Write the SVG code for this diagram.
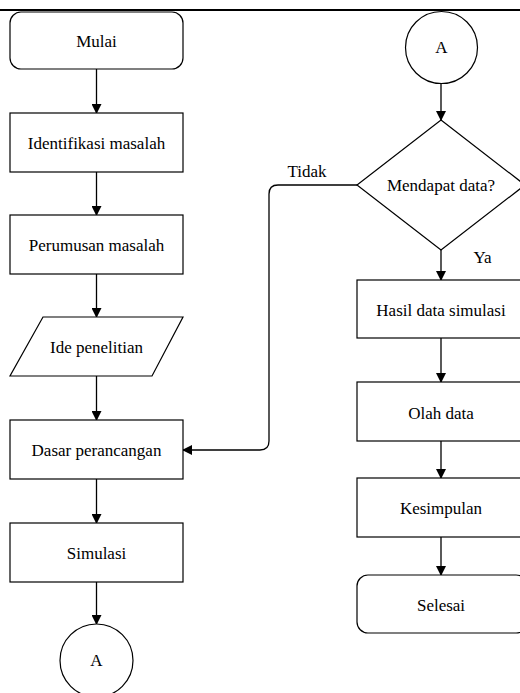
<svg xmlns="http://www.w3.org/2000/svg" width="520" height="693" viewBox="0 0 520 693">
<defs>
<marker id="ah" markerWidth="10" markerHeight="10" refX="9" refY="5" orient="auto" markerUnits="userSpaceOnUse">
<path d="M0,0 L10,5 L0,10 z" fill="#000"/>
</marker>
<style>
.s{fill:#fff;stroke:#000;stroke-width:1.2}
.t{font-family:'Liberation Serif','Times New Roman',serif;font-size:17px;fill:#000;text-anchor:middle}
.c{fill:none;stroke:#000;stroke-width:1.3;marker-end:url(#ah)}
</style>
</defs>
<rect width="520" height="693" fill="#fff"/>
<line x1="0" y1="10" x2="520" y2="10" stroke="#000" stroke-width="2"/>
<g id="connectors">
<line class="c" x1="96.5" y1="69" x2="96.5" y2="113"/>
<line class="c" x1="96.5" y1="172" x2="96.5" y2="215"/>
<line class="c" x1="96.5" y1="274" x2="96.5" y2="317"/>
<line class="c" x1="96.5" y1="376" x2="96.5" y2="420"/>
<line class="c" x1="96.5" y1="479" x2="96.5" y2="523"/>
<line class="c" x1="96.5" y1="582" x2="96.5" y2="624"/>
<line class="c" x1="441" y1="84" x2="441" y2="120"/>
<line class="c" x1="441" y1="250" x2="441" y2="280"/>
<line class="c" x1="441" y1="338" x2="441" y2="382"/>
<line class="c" x1="441" y1="441" x2="441" y2="478"/>
<line class="c" x1="441" y1="537" x2="441" y2="575"/>
<path class="c" d="M357,185 L278,185 Q269,185 269,194 L269,441 Q269,450 260,450 L183,450"/>
<text class="t" x="307" y="177">Tidak</text>
<text class="t" x="482.5" y="263">Ya</text>
</g>
<g id="mulai"><rect class="s" x="10" y="12" width="173" height="57" rx="11"/><text class="t" x="96.5" y="47">Mulai</text></g>
<g id="identifikasi"><rect class="s" x="10" y="113" width="173" height="59"/><text class="t" x="96.5" y="149">Identifikasi masalah</text></g>
<g id="perumusan"><rect class="s" x="10" y="215" width="173" height="59"/><text class="t" x="96.5" y="251">Perumusan masalah</text></g>
<g id="ide"><polygon class="s" points="43,317 183,317 152,376 10,376"/><text class="t" x="96.5" y="353">Ide penelitian</text></g>
<g id="dasar"><rect class="s" x="10" y="420" width="173" height="59"/><text class="t" x="96.5" y="456">Dasar perancangan</text></g>
<g id="simulasi"><rect class="s" x="10" y="523" width="173" height="59"/><text class="t" x="96.5" y="559">Simulasi</text></g>
<g id="a-out"><circle class="s" cx="96.5" cy="660.5" r="36.5"/><text class="t" x="96.5" y="666">A</text></g>
<g id="a-in"><circle class="s" cx="441.5" cy="47.5" r="36"/><text class="t" x="441.5" y="53">A</text></g>
<g id="decision"><polygon class="s" points="441,120 525,185 441,250 357,185"/><text class="t" x="441" y="191">Mendapat data?</text></g>
<g id="hasil"><rect class="s" x="357" y="280" width="170" height="58"/><text class="t" x="441" y="315.5">Hasil data simulasi</text></g>
<g id="olah"><rect class="s" x="357" y="382" width="170" height="59"/><text class="t" x="441" y="418.5">Olah data</text></g>
<g id="kesimpulan"><rect class="s" x="357" y="478" width="170" height="59"/><text class="t" x="441" y="514">Kesimpulan</text></g>
<g id="selesai"><rect class="s" x="357" y="575" width="170" height="58" rx="11"/><text class="t" x="441" y="610.5">Selesai</text></g>
</svg>
